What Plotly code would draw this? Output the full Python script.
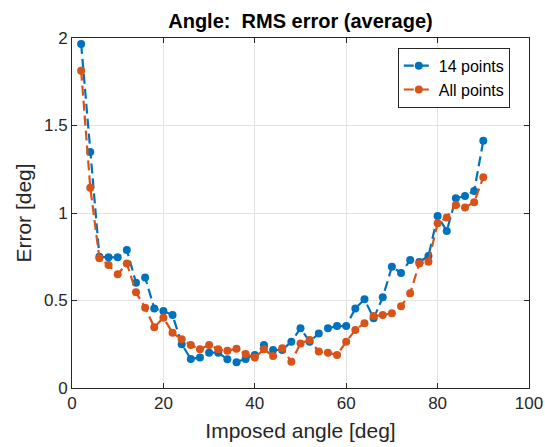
import plotly.graph_objects as go

# Imposed angles [deg]
angles = [2, 4, 6, 8, 10, 12, 14, 16, 18, 20, 22, 24, 26, 28, 30, 32, 34, 36, 38, 40,
          42, 44, 46, 48, 50, 52, 54, 56, 58, 60, 62, 64, 66, 68, 70, 72, 74, 76, 78, 80,
          82, 84, 86, 88, 90]

# RMS error [deg] using 14 points
err_14 = [1.966, 1.349, 0.750, 0.747, 0.747, 0.789, 0.602, 0.632, 0.455, 0.440,
          0.417, 0.250, 0.166, 0.175, 0.202, 0.202, 0.164, 0.147, 0.166, 0.189,
          0.246, 0.217, 0.217, 0.265, 0.341, 0.265, 0.312, 0.341, 0.354, 0.354,
          0.455, 0.507, 0.398, 0.518, 0.693, 0.657, 0.731, 0.720, 0.754, 0.983,
          0.897, 1.084, 1.097, 1.126, 1.413]

# RMS error [deg] using all points
err_all = [1.813, 1.145, 0.741, 0.703, 0.650, 0.712, 0.547, 0.459, 0.347, 0.402,
           0.316, 0.278, 0.246, 0.221, 0.246, 0.221, 0.213, 0.225, 0.194, 0.175,
           0.221, 0.183, 0.227, 0.150, 0.255, 0.274, 0.208, 0.202, 0.189, 0.265,
           0.331, 0.370, 0.411, 0.417, 0.427, 0.467, 0.541, 0.712, 0.722, 0.941,
           0.975, 1.046, 1.032, 1.061, 1.204]

x_ticks = [0, 20, 40, 60, 80, 100]
y_ticks = [0, 0.5, 1, 1.5, 2]

BLUE = "#0072BD"
ORANGE = "#D95319"
AX = "#262626"
FONT = "Liberation Sans, Arial, sans-serif"

fig = go.Figure()
fig.add_trace(go.Scatter(
    x=angles, y=err_14, mode="lines+markers", name="14 points",
    line=dict(color=BLUE, width=2.2, dash="10px,5px"),
    marker=dict(color=BLUE, size=8),
))
fig.add_trace(go.Scatter(
    x=angles, y=err_all, mode="lines+markers", name="All points",
    line=dict(color=ORANGE, width=2.2, dash="10px,5px"),
    marker=dict(color=ORANGE, size=8),
))

axis_common = dict(
    showline=True, linecolor=AX, linewidth=1, mirror="ticks",
    ticks="inside", ticklen=5, tickcolor=AX,
    showgrid=True, gridcolor="#E3E3E3", gridwidth=1,
    zeroline=False, automargin=False,
    tickfont=dict(size=17, color=AX, family=FONT),
)

fig.update_layout(
    width=545, height=447,
    margin=dict(l=72, r=16, t=38, b=59),
    paper_bgcolor="white", plot_bgcolor="white",
    font=dict(family=FONT, color=AX),
    title=dict(text="<b>Angle:  RMS error (average)</b>", x=(72 + 529) / 2 / 545,
               xanchor="center", y=1 - 21 / 447, yanchor="middle",
               font=dict(size=20, color="black", family=FONT)),
    xaxis=dict(range=[0, 100], tickvals=x_ticks,
               title=dict(text="Imposed angle [deg]", standoff=10,
                          font=dict(size=21, color=AX, family=FONT)),
               **axis_common),
    yaxis=dict(range=[0, 2], tickvals=y_ticks, ticktext=["0", "0.5", "1", "1.5", "2"],
               title=dict(text="Error [deg]", standoff=6,
                          font=dict(size=21, color=AX, family=FONT)),
               **axis_common),
    legend=dict(x=0.958, xanchor="right", y=0.972, yanchor="top",
                bgcolor="white", bordercolor=AX, borderwidth=1,
                font=dict(size=16, color="black", family=FONT),
                tracegroupgap=0, itemwidth=30),
    showlegend=True,
)

fig.write_html("out.html")
